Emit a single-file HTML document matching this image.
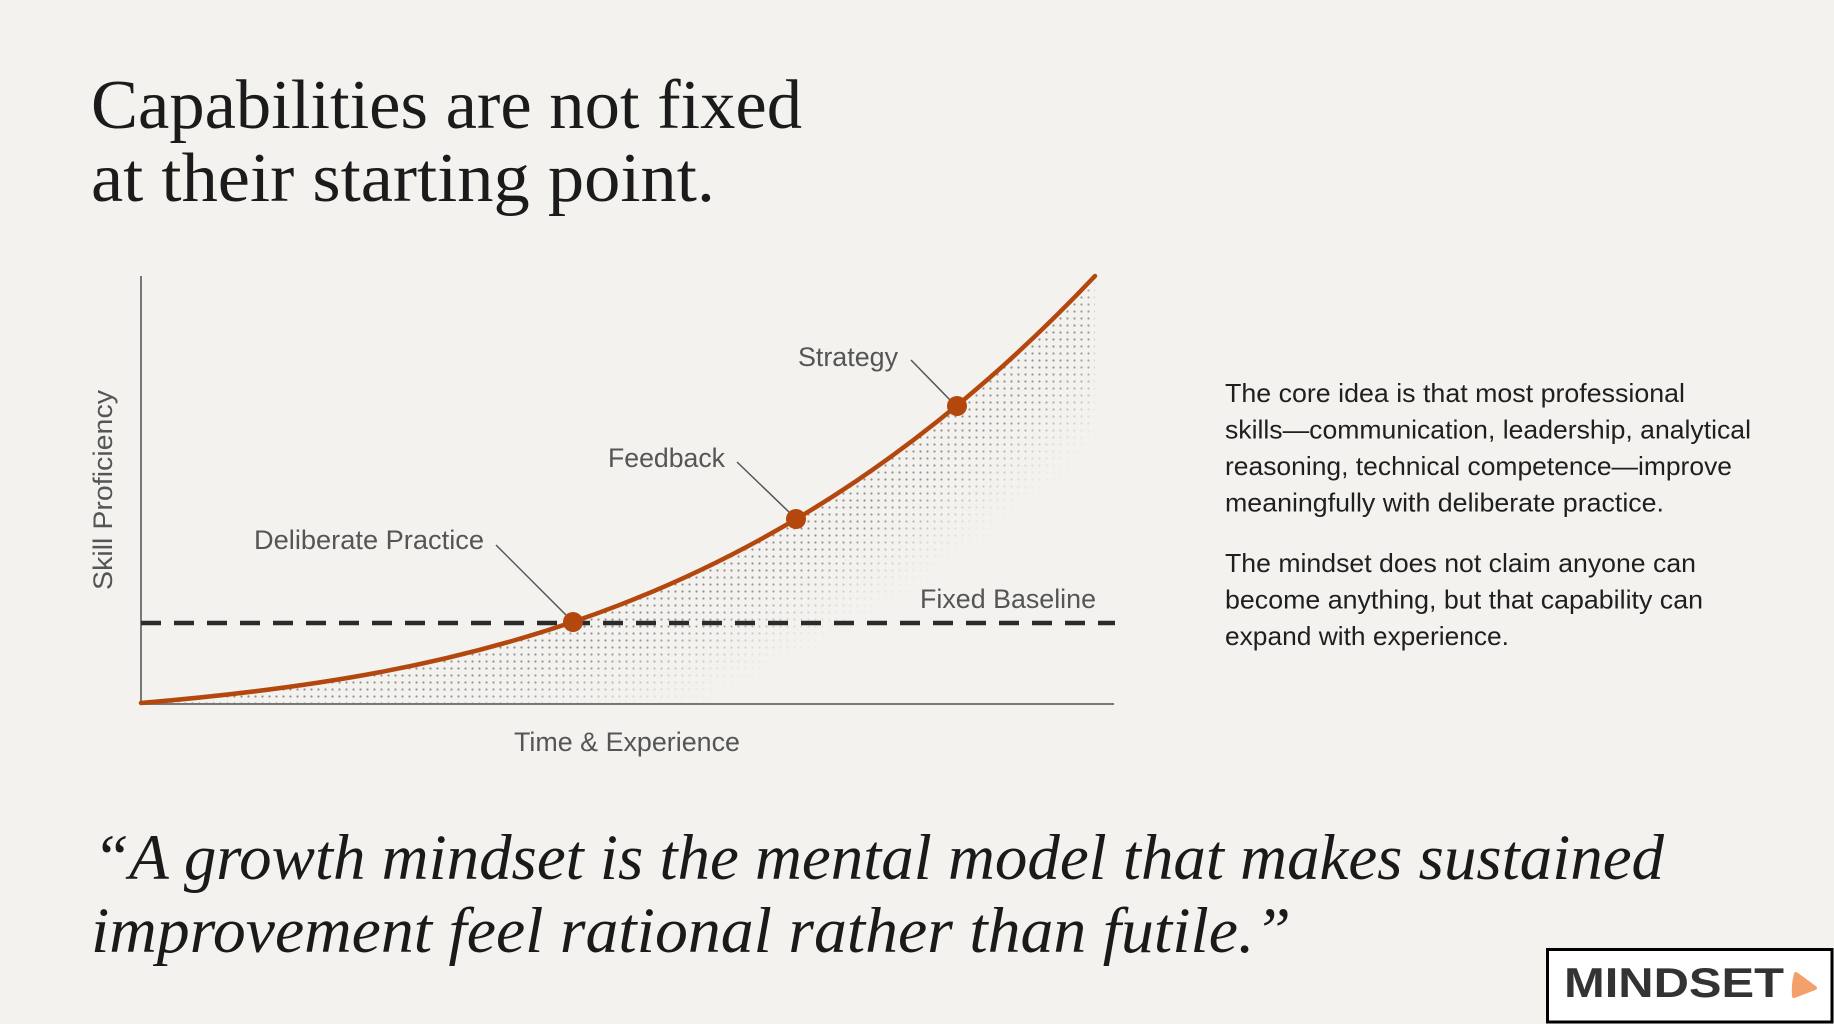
<!DOCTYPE html>
<html>
<head>
<meta charset="utf-8">
<style>
html,body{margin:0;padding:0;background:#f3f2ee;}
body{width:1834px;height:1024px;overflow:hidden;}
svg{display:block;}
</style>
</head>
<body>
<svg width="1834" height="1024" viewBox="0 0 1834 1024" xmlns="http://www.w3.org/2000/svg">
  <defs>
    <pattern id="dots" x="0" y="0" width="7" height="7" patternUnits="userSpaceOnUse">
      <circle cx="3.5" cy="3.5" r="1.1" fill="#8f8f8f"/>
    </pattern>
    <clipPath id="under">
      <path d="M141,703 C459,676.2 777,612.3 1095,276 L1095,704 L141,704 Z"/>
    </clipPath>
    <filter id="blur" x="-20%" y="-20%" width="140%" height="140%">
      <feGaussianBlur stdDeviation="26"/>
    </filter>
    <mask id="fade" maskUnits="userSpaceOnUse" x="0" y="0" width="1834" height="1024">
      <path d="M141,703 C459,676.2 777,612.3 1095,276" fill="none" stroke="#fff" stroke-width="150" filter="url(#blur)"/>
    </mask>
  </defs>

  <rect width="1834" height="1024" fill="#f3f2ee"/>

  <!-- Title -->
  <g font-family="'Liberation Serif', serif" font-size="70" fill="#1b1b1b">
    <text x="91" y="128" textLength="711" lengthAdjust="spacingAndGlyphs">Capabilities are not fixed</text>
    <text x="91" y="201" textLength="624" lengthAdjust="spacingAndGlyphs">at their starting point.</text>
  </g>

  <!-- stipple fill -->
  <g clip-path="url(#under)">
    <rect x="141" y="270" width="960" height="440" fill="url(#dots)" mask="url(#fade)"/>
  </g>

  <!-- axes -->
  <line x1="141" y1="276" x2="141" y2="705" stroke="#777" stroke-width="2"/>
  <line x1="140" y1="704" x2="1114" y2="704" stroke="#777" stroke-width="2"/>

  <!-- fixed baseline dashed -->
  <line x1="141" y1="623" x2="1115" y2="623" stroke="#2b2b2b" stroke-width="4.5" stroke-dasharray="20 13"/>

  <!-- curve -->
  <path d="M141,703 C459,676.2 777,612.3 1095,276" fill="none" stroke="#b4470e" stroke-width="4.5" stroke-linecap="round"/>

  <!-- leaders -->
  <g stroke="#555" stroke-width="1.5" fill="none">
    <line x1="496" y1="545" x2="566" y2="615"/>
    <line x1="737" y1="462" x2="790" y2="513"/>
    <line x1="911" y1="360" x2="951" y2="401"/>
  </g>

  <!-- dots -->
  <g fill="#b4470e">
    <circle cx="573" cy="622" r="10"/>
    <circle cx="796" cy="519" r="10"/>
    <circle cx="957" cy="406" r="10"/>
  </g>

  <!-- labels -->
  <g font-family="'Liberation Sans', sans-serif" font-size="27" fill="#555">
    <text x="254" y="549" textLength="230" lengthAdjust="spacingAndGlyphs">Deliberate Practice</text>
    <text x="608" y="467" textLength="117" lengthAdjust="spacingAndGlyphs">Feedback</text>
    <text x="798" y="366" textLength="100" lengthAdjust="spacingAndGlyphs">Strategy</text>
    <text x="920" y="608" textLength="176" lengthAdjust="spacingAndGlyphs">Fixed Baseline</text>
    <text x="514" y="751" textLength="226" lengthAdjust="spacingAndGlyphs">Time &amp; Experience</text>
    <text x="0" y="0" transform="translate(112,490) rotate(-90)" text-anchor="middle" textLength="200" lengthAdjust="spacingAndGlyphs">Skill Proficiency</text>
  </g>

  <!-- right paragraph -->
  <g font-family="'Liberation Sans', sans-serif" font-size="26" fill="#1f1f1f">
    <text x="1225" y="402" textLength="460" lengthAdjust="spacingAndGlyphs">The core idea is that most professional</text>
    <text x="1225" y="438.5" textLength="526" lengthAdjust="spacingAndGlyphs">skills—communication, leadership, analytical</text>
    <text x="1225" y="475" textLength="507" lengthAdjust="spacingAndGlyphs">reasoning, technical competence—improve</text>
    <text x="1225" y="511.5" textLength="439" lengthAdjust="spacingAndGlyphs">meaningfully with deliberate practice.</text>
    <text x="1225" y="572" textLength="471" lengthAdjust="spacingAndGlyphs">The mindset does not claim anyone can</text>
    <text x="1225" y="608.5" textLength="478" lengthAdjust="spacingAndGlyphs">become anything, but that capability can</text>
    <text x="1225" y="645" textLength="284" lengthAdjust="spacingAndGlyphs">expand with experience.</text>
  </g>

  <!-- quote -->
  <g font-family="'Liberation Serif', serif" font-style="italic" font-size="65" fill="#1a1a1a">
    <text x="93" y="879" textLength="1571" lengthAdjust="spacingAndGlyphs">“A growth mindset is the mental model that makes sustained</text>
    <text x="91" y="952" textLength="1200" lengthAdjust="spacingAndGlyphs">improvement feel rational rather than futile.”</text>
  </g>

  <!-- logo -->
  <rect x="1547.5" y="949.5" width="284.5" height="72.5" fill="#ffffff" stroke="#000" stroke-width="3"/>
  <text x="1564" y="997" font-family="'Liberation Sans', sans-serif" font-weight="bold" font-size="42" fill="#333" textLength="220" lengthAdjust="spacingAndGlyphs">MINDSET</text>
  <path d="M1796,974 L1815,988 L1794,996 Q1793,985 1796,974 Z" fill="#f4a06a" stroke="#f4a06a" stroke-width="4" stroke-linejoin="round"/>
</svg>
</body>
</html>
